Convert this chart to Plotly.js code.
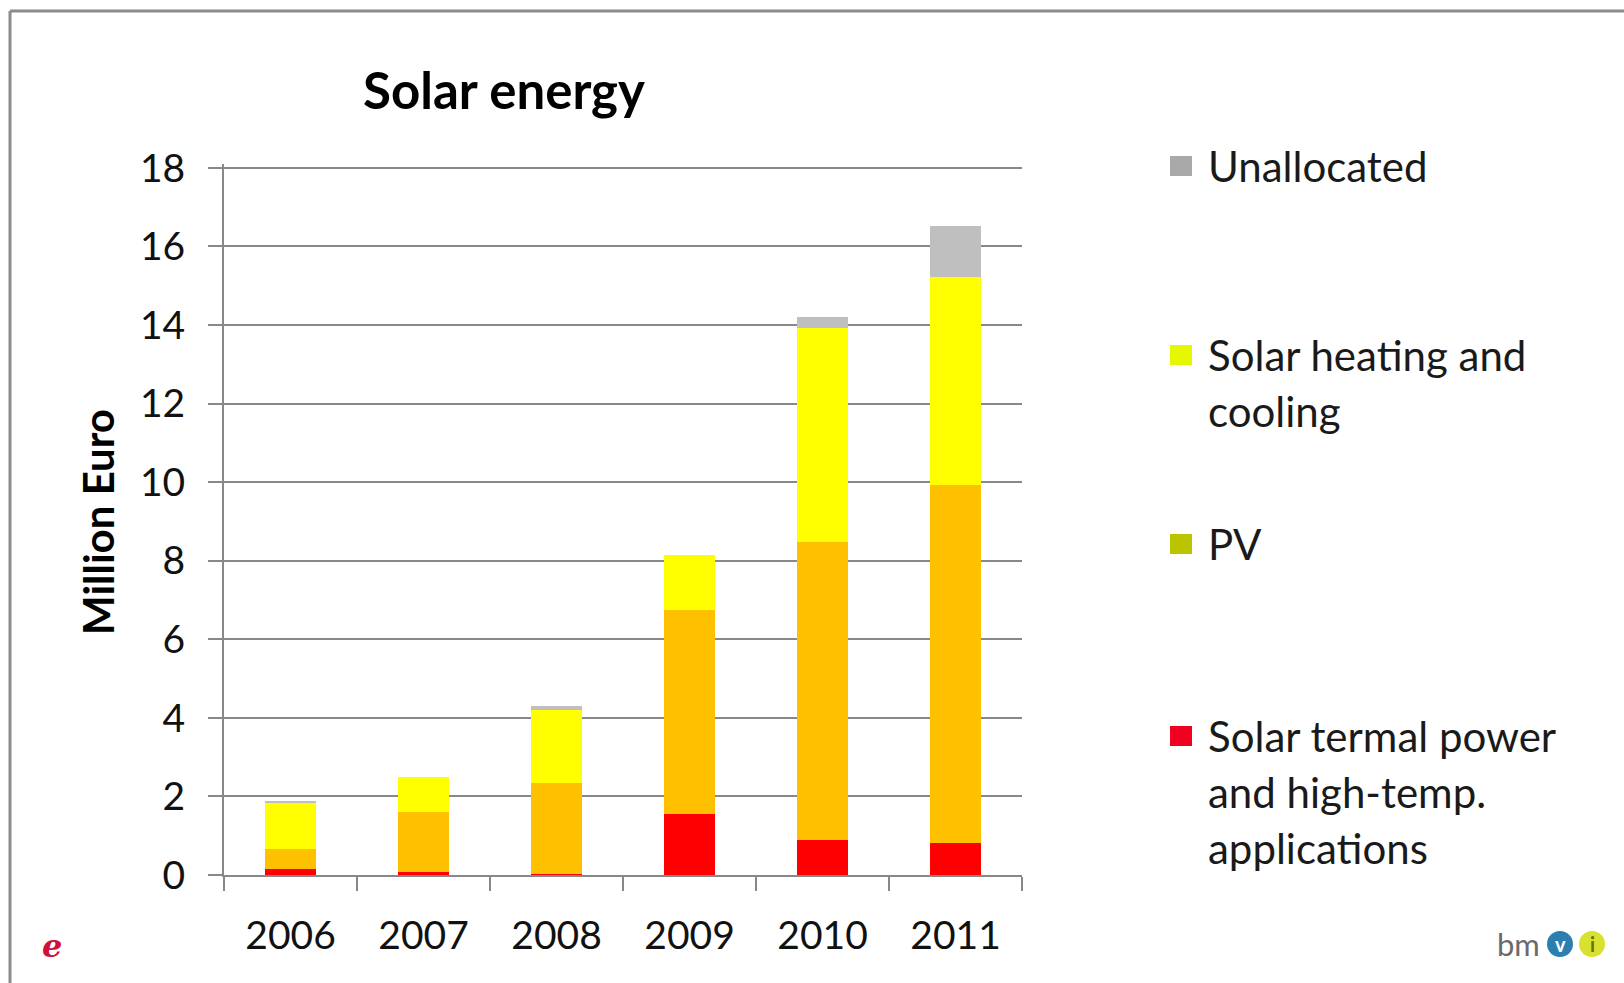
<!DOCTYPE html>
<html>
<head>
<meta charset="utf-8">
<script src="https://cdn.plot.ly/plotly-3.0.1.min.js"></script>
<style>html,body{margin:0;padding:0;background:#fff;}#chart{width:1624px;height:983px;}</style>
</head>
<body>
<div id="chart"></div>
<script>
// ---- data ----
var years = ["2006", "2007", "2008", "2009", "2010", "2011"];
var solarThermalPower = [0.15, 0.08, 0.03, 1.55, 0.88, 0.81];
var pv = [0.51, 1.52, 2.31, 5.19, 7.6, 9.12];
var solarHeatingCooling = [1.17, 0.89, 1.85, 1.4, 5.45, 5.3];
var unallocated = [0.06, 0.0, 0.1, 0.0, 0.27, 1.3];
var seriesNames = ["Solar termal power and high-temp. applications", "PV", "Solar heating and cooling", "Unallocated"];
var yTicks = [0, 2, 4, 6, 8, 10, 12, 14, 16, 18];

// ---- layout helpers (pixels -> paper) ----
var L = 224, R = 1022, T = 164, B = 875, W = 1624, H = 983;
function X(px) { return (px - L) / (R - L); }
function Y(py) { return (B - py) / (B - T); }

var FONT = "Lato, 'Open Sans', sans-serif";
var barColors = ["#FF0000", "#FFC000", "#FFFF00", "#BFBFBF"];
var legendSwatch = ["#EE0020", "#BCC400", "#E6F700", "#A9A9A9"];
var seriesData = [solarThermalPower, pv, solarHeatingCooling, unallocated];

var traces = seriesData.map(function (vals, i) {
  return {
    type: "bar", x: years, y: vals, name: seriesNames[i],
    marker: { color: barColors[i], line: { width: 0 } },
    showlegend: false, hoverinfo: "x+y+name"
  };
});

// custom legend (Unallocated on top, as in the original)
var legendItems = [
  { lines: ["Unallocated"], y: 166, c: legendSwatch[3] },
  { lines: ["Solar heating and", "cooling"], y: 355, c: legendSwatch[2] },
  { lines: ["PV"], y: 544, c: legendSwatch[1] },
  { lines: ["Solar termal power", "and high-temp.", "applications"], y: 736, c: legendSwatch[0] }
];
var annotations = [];
var shapes = [];
legendItems.forEach(function (it) {
  shapes.push({ type: "rect", xref: "paper", yref: "paper", x0: X(1170), x1: X(1192), y0: Y(it.y + 10), y1: Y(it.y - 10), fillcolor: it.c, line: { width: 0 } });
  it.lines.forEach(function (ln, k) {
    annotations.push({ xref: "paper", yref: "paper", x: X(1206), y: Y(it.y + k * 56), xanchor: "left", yanchor: "middle", text: ln, showarrow: false, font: { family: FONT, size: 42, color: "#1a1a1a" } });
  });
});
// y axis title
annotations.push({ xref: "paper", yref: "paper", x: X(98), y: Y(522), xanchor: "center", yanchor: "middle", textangle: -90, text: "<b>Million Euro</b>", showarrow: false, font: { family: FONT, size: 42, color: "#000" } });
// logos
annotations.push({ xref: "paper", yref: "paper", x: X(52), y: Y(946), xanchor: "center", yanchor: "middle", text: "<b><i>e</i></b>", showarrow: false, font: { family: "DejaVu Serif, serif", size: 32, color: "#D0103A" } });
annotations.push({ xref: "paper", yref: "paper", x: X(1518), y: Y(944), xanchor: "center", yanchor: "middle", text: "bm", showarrow: false, font: { family: FONT, size: 31, color: "#6a6a6a" } });
shapes.push({ type: "circle", xref: "paper", yref: "paper", x0: X(1547), x1: X(1573), y0: Y(957), y1: Y(931), fillcolor: "#2A7FB0", line: { width: 0 } });
shapes.push({ type: "circle", xref: "paper", yref: "paper", x0: X(1579), x1: X(1605), y0: Y(957), y1: Y(931), fillcolor: "#D8E030", line: { width: 0 } });
annotations.push({ xref: "paper", yref: "paper", x: X(1560), y: Y(944), xanchor: "center", yanchor: "middle", text: "<b>v</b>", showarrow: false, font: { family: FONT, size: 20, color: "#fff" } });
annotations.push({ xref: "paper", yref: "paper", x: X(1592), y: Y(944), xanchor: "center", yanchor: "middle", text: "<b>i</b>", showarrow: false, font: { family: FONT, size: 20, color: "#6a7000" } });
// frame of the slide
shapes.push({ type: "line", xref: "paper", yref: "paper", x0: X(10), x1: X(1624), y0: Y(11), y1: Y(11), line: { color: "#8c8c8c", width: 3 } });
shapes.push({ type: "line", xref: "paper", yref: "paper", x0: X(10), x1: X(10), y0: Y(11), y1: Y(983), line: { color: "#8c8c8c", width: 3 } });

var layout = {
  width: W, height: H,
  margin: { l: L, r: W - R, t: T, b: H - B, pad: 0 },
  paper_bgcolor: "#fff", plot_bgcolor: "#fff",
  barmode: "stack", bargap: 0.61,
  title: { text: "<b>Solar energy</b>", x: 504 / W, xanchor: "center", y: 1 - 91 / H, yanchor: "middle", font: { family: FONT, size: 51, color: "#000" } },
  xaxis: {
    type: "category", tickvals: years, ticktext: years,
    ticks: "outside", tickson: "boundaries", ticklen: 14, tickwidth: 2, tickcolor: "#888",
    showline: true, linecolor: "#888", linewidth: 2, showgrid: false, zeroline: false,
    ticklabelstandoff: 25,
    tickfont: { family: FONT, size: 39, color: "#111" }, fixedrange: true
  },
  yaxis: {
    range: [0, 18.1], tickvals: yTicks, ticktext: yTicks.map(String),
    ticks: "outside", ticklen: 14, tickwidth: 2, tickcolor: "#888",
    showline: true, linecolor: "#888", linewidth: 2,
    showgrid: true, gridcolor: "#888", gridwidth: 2, zeroline: false,
    ticklabelstandoff: 15,
    tickfont: { family: FONT, size: 39, color: "#111" }, fixedrange: true
  },
  annotations: annotations, shapes: shapes,
  showlegend: false
};
Plotly.newPlot("chart", traces, layout, { staticPlot: true, displayModeBar: false });
</script>
</body>
</html>
